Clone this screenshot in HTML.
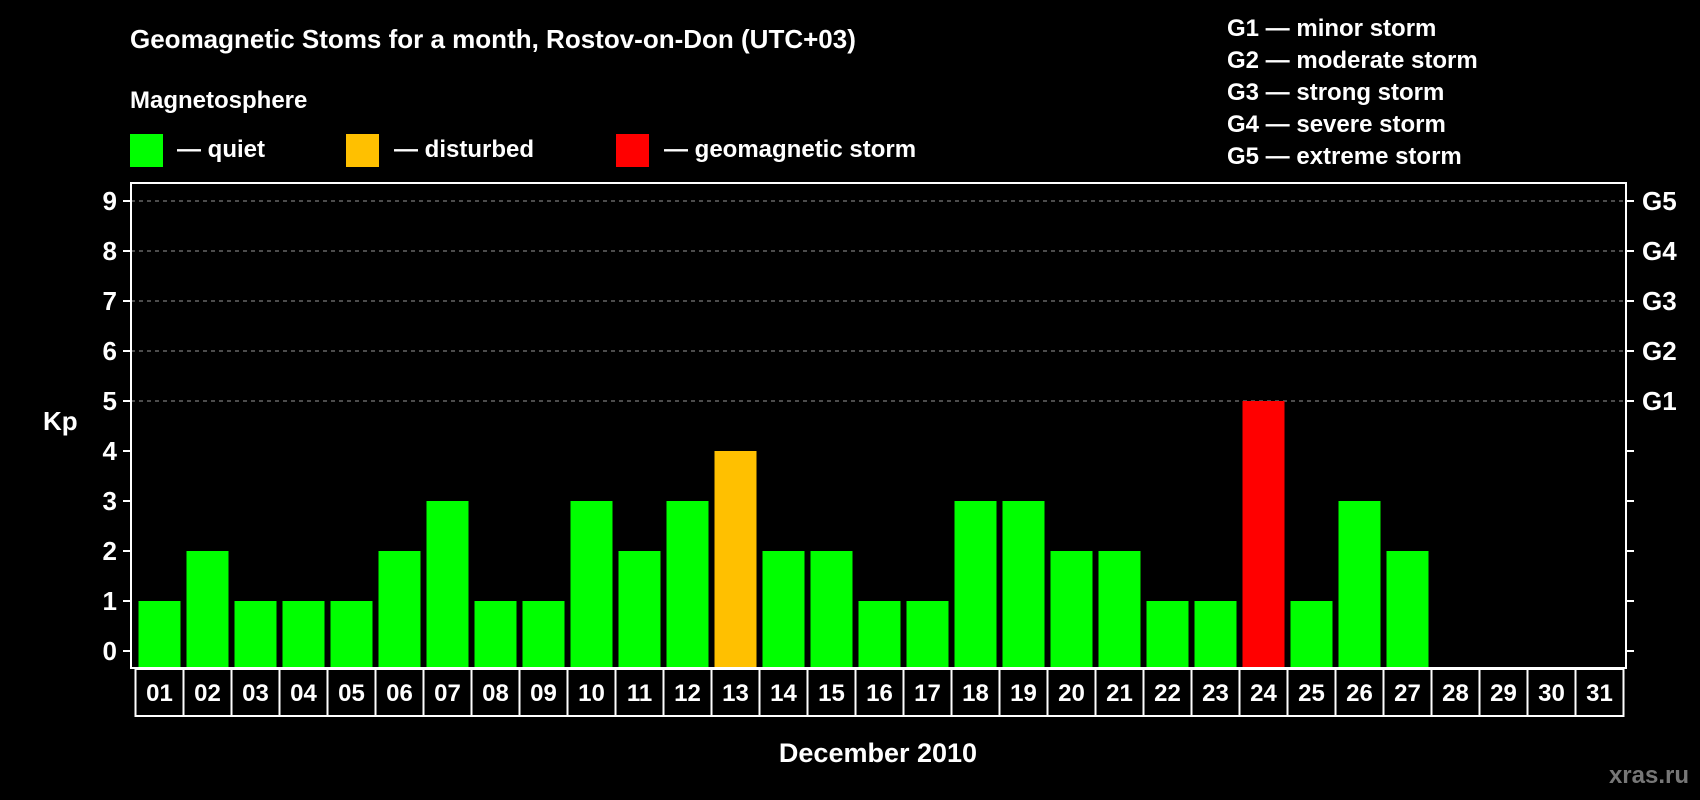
<!DOCTYPE html>
<html><head><meta charset="utf-8"><style>
html,body{margin:0;padding:0;background:#000;}
svg{display:block;font-family:"Liberation Sans",Arial,sans-serif;font-weight:bold;}
</style></head><body>
<svg id="chart" width="1700" height="800" viewBox="0 0 1700 800">
<text x="130" y="48" fill="#fff" font-size="26">Geomagnetic Stoms for a month, Rostov-on-Don (UTC+03)</text>
<text x="130" y="108" fill="#fff" font-size="24">Magnetosphere</text>
<g><rect x="130" y="134" width="33" height="33" fill="#00ff00"/><text x="177" y="157" fill="#fff" font-size="24">— quiet</text></g>
<g><rect x="346" y="134" width="33" height="33" fill="#ffc000"/><text x="394" y="157" fill="#fff" font-size="24">— disturbed</text></g>
<g><rect x="616" y="134" width="33" height="33" fill="#ff0000"/><text x="664" y="157" fill="#fff" font-size="24">— geomagnetic storm</text></g>
<g fill="#fff" font-size="24">
<text x="1227" y="36">G1 — minor storm</text>
<text x="1227" y="68">G2 — moderate storm</text>
<text x="1227" y="100">G3 — strong storm</text>
<text x="1227" y="132">G4 — severe storm</text>
<text x="1227" y="164">G5 — extreme storm</text>
</g>
<g id="grid"></g>
<g id="bars"></g>
<rect x="131" y="183" width="1495" height="485" fill="none" stroke="#fff" stroke-width="2"/>
<g id="axes"></g>
<text x="43" y="430" fill="#fff" font-size="26">Kp</text>
<text x="878" y="762" fill="#fff" font-size="27" text-anchor="middle">December 2010</text>
<text x="1689" y="783" fill="#777" font-size="24" text-anchor="end">xras.ru</text>
</svg>
<script>
const days = ["01","02","03","04","05","06","07","08","09","10","11","12","13","14","15","16","17","18","19","20","21","22","23","24","25","26","27","28","29","30","31"];
const kpValues = [1,2,1,1,1,2,3,1,1,3,2,3,4,2,2,1,1,3,3,2,2,1,1,5,1,3,2,null,null,null,null];
const yTicks = [0,1,2,3,4,5,6,7,8,9];
const gLabels = ["G1","G2","G3","G4","G5"];
const NS="http://www.w3.org/2000/svg";
const y = v => 651 - v*50;
const slotX = i => 135.5 + i*48;
function mk(tag, attrs, parent){const e=document.createElementNS(NS,tag);for(const k in attrs)e.setAttribute(k,attrs[k]);parent.appendChild(e);return e;}
const grid=document.getElementById('grid'), bars=document.getElementById('bars'), axes=document.getElementById('axes');
yTicks.forEach(v=>{
  if(v>=5){const l=mk('line',{x1:131,x2:1626,y1:y(v),y2:y(v),stroke:'#999','stroke-dasharray':'4 4','stroke-width':1},grid);
    
    }
  mk('line',{x1:123,x2:131,y1:y(v),y2:y(v),stroke:'#fff','stroke-width':2},axes);
  mk('line',{x1:1626,x2:1634,y1:y(v),y2:y(v),stroke:'#fff','stroke-width':2},axes);
  const t=mk('text',{x:117,y:y(v)+9,fill:'#fff','font-size':26,'text-anchor':'end'},axes);t.textContent=v;
  
  
});
gLabels.forEach((g,i)=>{
  const t=mk('text',{x:1642,y:y(5+i)+9,fill:'#fff','font-size':26},axes);t.textContent=g;
  
  
});
days.forEach((d,i)=>{
  const v=kpValues[i];
  if(v!=null){
    const col=v>=5?'#ff0000':(v>=4?'#ffc000':'#00ff00');
    const r=mk('rect',{x:slotX(i)+3,y:y(v),width:42,height:667-y(v),fill:col},bars);
    
    
  }
  const b=mk('rect',{x:slotX(i),y:669,width:48,height:47,fill:'none',stroke:'#fff','stroke-width':2},axes);
  
  
  const t=mk('text',{x:slotX(i)+24,y:701,fill:'#fff','font-size':24,'text-anchor':'middle'},axes);t.textContent=d;
  
  
});
</script>
</body></html>
